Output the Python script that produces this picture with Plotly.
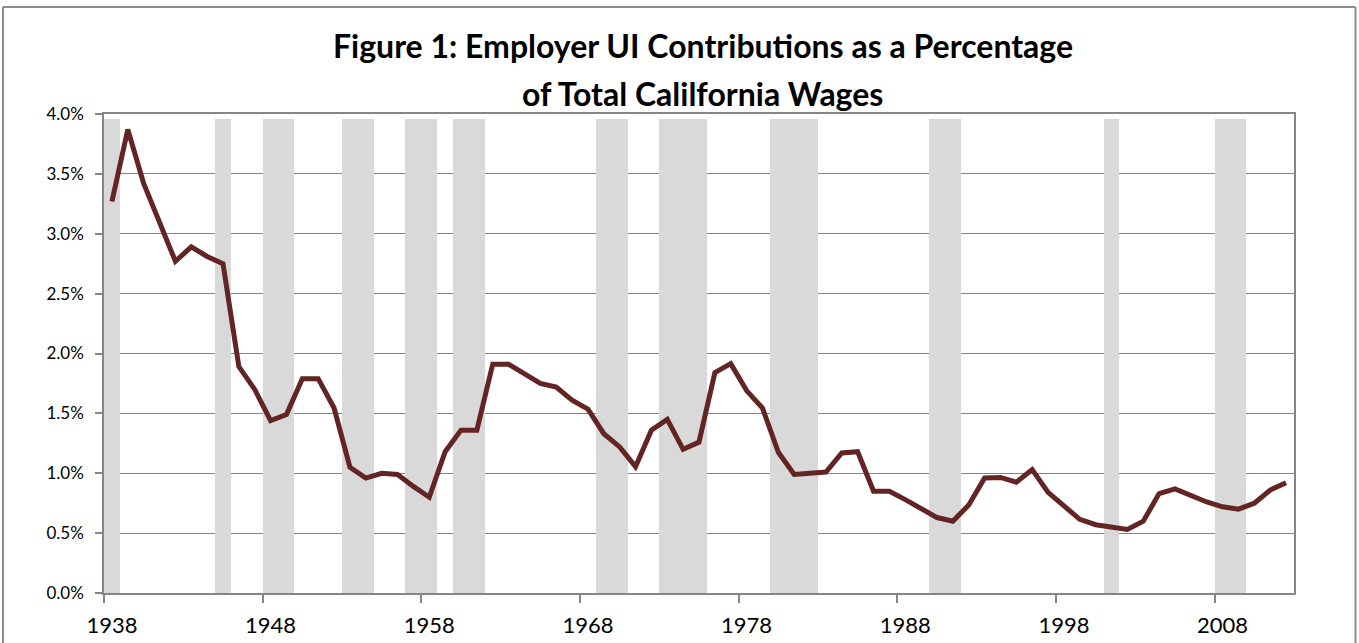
import plotly.graph_objects as go

# ---- data ----
years = list(range(1938, 2013))
contrib_pct = [
    3.27, 3.87, 3.42, 3.10, 2.77, 2.89, 2.81, 2.75, 1.89, 1.70,   # 1938-1947
    1.44, 1.49, 1.79, 1.79, 1.545, 1.05, 0.96, 1.00, 0.99, 0.89,  # 1948-1957
    0.80, 1.18, 1.36, 1.36, 1.91, 1.91, 1.83, 1.75, 1.72, 1.61,   # 1958-1967
    1.535, 1.33, 1.22, 1.055, 1.36, 1.45, 1.20, 1.26, 1.84, 1.915,  # 1968-1977
    1.69, 1.545, 1.175, 0.99, 1.00, 1.01, 1.17, 1.18, 0.85, 0.85,  # 1978-1987
    0.78, 0.71, 0.63, 0.60, 0.735, 0.96, 0.965, 0.925, 1.03, 0.84,  # 1988-1997
    0.725, 0.615, 0.57, 0.55, 0.53, 0.60, 0.83, 0.87, 0.815, 0.76,  # 1998-2007
    0.72, 0.70, 0.75, 0.86, 0.92,                                  # 2008-2012
]
recession_years = [1938, 1945, 1948, 1949, 1953, 1954, 1957, 1958, 1960, 1961,
                   1969, 1970, 1973, 1974, 1975, 1980, 1981, 1982, 1990, 1991,
                   2001, 2008, 2009]
recession_bar_height = 3.96
label_years = [1938, 1948, 1958, 1968, 1978, 1988, 1998, 2008]
label_text = [str(y) for y in label_years]
y_ticks = [0, 0.5, 1.0, 1.5, 2.0, 2.5, 3.0, 3.5, 4.0]
y_tick_text = ["0.0%", "0.5%", "1.0%", "1.5%", "2.0%", "2.5%", "3.0%", "3.5%", "4.0%"]
title_line1 = "Figure 1: Employer UI Contributions as a Percentage"
title_line2 = "of Total Calilfornia Wages"

FONT = "Lato, 'Open Sans', sans-serif"
AXIS_GRAY = "#868686"
BORDER = dict(color="#8c8c8c", width=2)

fig = go.Figure()
fig.add_trace(go.Bar(
    x=recession_years, y=[recession_bar_height] * len(recession_years),
    width=1.0, marker=dict(color="#d9d9d9", line=dict(width=0)),
    hoverinfo="skip", showlegend=False,
))
fig.add_trace(go.Scatter(
    x=years, y=contrib_pct, mode="lines",
    line=dict(color="#632523", width=5, shape="linear"),
    showlegend=False,
))

# outer chart frame in paper coordinates
px = lambda v: (v - 104) / 1190
py = lambda v: (593 - v) / 479
left, right, top, bottom = 3, 1355.5, 7, 660

fig.update_layout(
    width=1359, height=643,
    margin=dict(l=104, r=65, t=114, b=50, autoexpand=False),
    paper_bgcolor="white", plot_bgcolor="white",
    bargap=0,
    font=dict(family=FONT, color="black"),
    xaxis=dict(
        range=[1937.5, 2012.5], automargin=False,
        tickmode="array", tickvals=label_years, ticktext=label_text,
        ticks="", showgrid=False, zeroline=False,
        showline=True, linecolor=AXIS_GRAY, linewidth=1.5, mirror=True,
        tickfont=dict(size=22, family=FONT, color="black"),
        ticklabelstandoff=12,
        minor=dict(tickmode="linear", tick0=1937.5, dtick=10,
                   ticks="outside", ticklen=8, tickcolor=AXIS_GRAY,
                   tickwidth=1.5, showgrid=False),
    ),
    yaxis=dict(
        range=[0, 4.0], automargin=False,
        tickmode="array", tickvals=y_ticks, ticktext=y_tick_text,
        ticks="outside", ticklen=7, tickcolor=AXIS_GRAY, tickwidth=1.5,
        showgrid=True, gridcolor="#858585", gridwidth=1.4,
        zeroline=False,
        showline=True, linecolor=AXIS_GRAY, linewidth=1.5, mirror=True,
        tickfont=dict(size=17, family=FONT, color="black"),
        ticklabelstandoff=8,
    ),
    annotations=[
        dict(text="<b>" + title_line1 + "</b>", xref="paper", yref="paper",
             x=0.503, y=py(45), xanchor="center", yanchor="middle",
             showarrow=False, font=dict(size=32, family=FONT, color="black")),
        dict(text="<b>" + title_line2 + "</b>", xref="paper", yref="paper",
             x=0.503, y=py(94), xanchor="center", yanchor="middle",
             showarrow=False, font=dict(size=32, family=FONT, color="black")),
    ],
    shapes=[
        dict(type="line", xref="paper", yref="paper", x0=px(left), x1=px(right),
             y0=py(top), y1=py(top), line=BORDER, layer="above"),
        dict(type="line", xref="paper", yref="paper", x0=px(left), x1=px(left),
             y0=py(top), y1=py(bottom), line=BORDER, layer="above"),
        dict(type="line", xref="paper", yref="paper", x0=px(right), x1=px(right),
             y0=py(top), y1=py(bottom), line=BORDER, layer="above"),
    ],
)

fig.write_html("out.html", config={"displayModeBar": False},
               post_script="document.body.style.margin='0';document.body.style.overflow='hidden';")
